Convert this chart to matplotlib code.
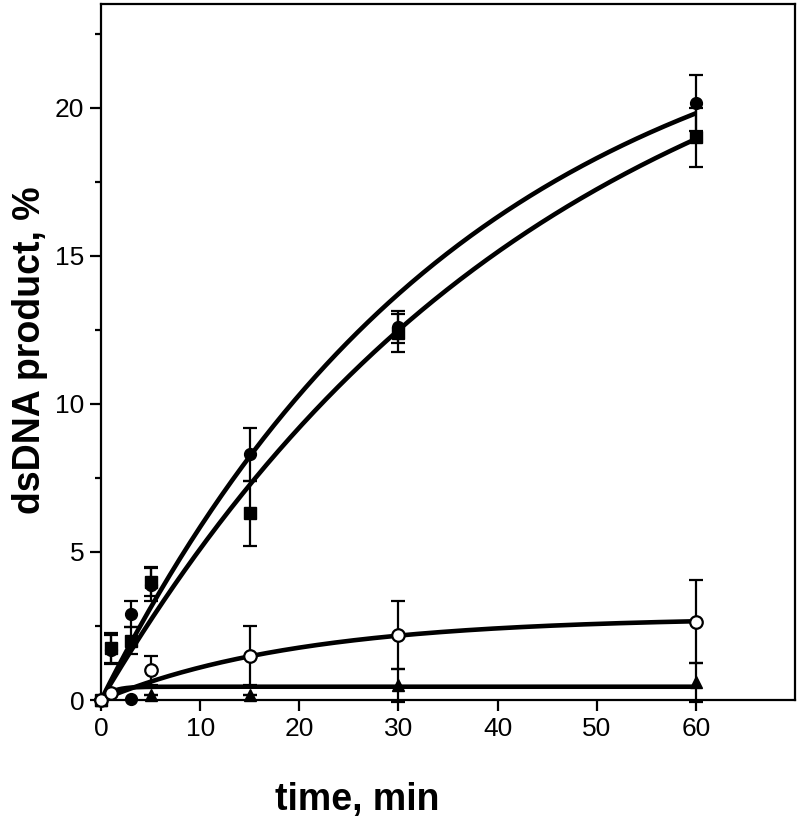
import numpy as np
import matplotlib
matplotlib.use("Agg")
import matplotlib.pyplot as plt

# ---- data ----
t_sq = [0, 1, 3, 5, 15, 30, 60]
y_sq = [0.0, 1.75, 2.0, 4.0, 6.3, 12.4, 19.0]
e_sq = [0.0, 0.5, 0.45, 0.5, 1.1, 0.65, 1.0]

t_ci = [0, 1, 3, 5, 15, 30, 60]
y_ci = [0.0, 1.7, 2.9, 3.9, 8.3, 12.6, 20.15]
e_ci = [0.0, 0.5, 0.45, 0.55, 0.9, 0.55, 0.95]

t_oc = [0, 1, 5, 15, 30, 60]
y_oc = [0.0, 0.25, 1.0, 1.5, 2.2, 2.65]
e_oc = [0.0, 0.1, 0.5, 1.0, 1.15, 1.4]

t_tr = [0, 5, 15, 30, 60]
y_tr = [0.0, 0.17, 0.17, 0.5, 0.6]
e_tr = [0.0, 0.0, 0.0, 0.55, 0.65]

t_low = [3]
y_low = [0.05]

# fitted curves y = A (1 - exp(-k t))
fit_ci = (24.7, 0.027)
fit_sq = (25.85, 0.022)
fit_oc = (2.8, 0.05)
fit_tr = (0.45, 0.9)

xticks = [0, 10, 20, 30, 40, 50, 60]
yticks = [0, 5, 10, 15, 20]

plt.rcParams['font.family'] = ['Liberation Sans', 'DejaVu Sans']

fig = plt.figure(figsize=(8.0, 8.26), dpi=100)
ax = fig.add_axes([0.1263, 0.1525, 0.8675, 0.8426])

tt = np.linspace(0, 60, 400)
for A, k in (fit_ci, fit_sq, fit_oc, fit_tr):
    ax.plot(tt, A * (1 - np.exp(-k * tt)), color='black', lw=3.3, zorder=3,
            solid_capstyle='butt')

ekw = dict(fmt='none', ecolor='black', elinewidth=1.6, capsize=5, capthick=1.6,
           zorder=2, clip_on=False)
ax.errorbar(t_sq, y_sq, yerr=e_sq, **ekw)
ax.errorbar(t_ci, y_ci, yerr=e_ci, **ekw)
ax.errorbar(t_oc, y_oc, yerr=e_oc, **ekw)
ax.errorbar(t_tr, y_tr, yerr=e_tr, **ekw)

ax.plot(t_sq, y_sq, 's', color='black', ms=8, zorder=4, clip_on=False)
ax.plot(t_ci, y_ci, 'o', color='black', ms=8.5, zorder=4, clip_on=False)
ax.plot(t_low, y_low, 'o', color='black', ms=8.5, zorder=4, clip_on=False)
ax.plot(t_oc, y_oc, 'o', mfc='white', mec='black', mew=1.6, ms=9, zorder=5, clip_on=False)
ax.plot(t_tr, y_tr, '^', color='black', ms=9, zorder=4, clip_on=False)

ax.set_xlim(0, 70)
ax.set_ylim(0, 23.5)
ax.set_xticks(xticks)
ax.set_yticks(yticks)
ax.set_yticks(np.arange(2.5, 23.5, 5), minor=True)
ax.tick_params(axis='both', which='major', direction='out', length=8, width=1.6,
               labelsize=19, pad=4)
ax.tick_params(axis='y', which='minor', direction='out', length=4, width=1.6)
for s in ax.spines.values():
    s.set_linewidth(1.6)

fig.text(357 / 800, 1 - 800 / 826, 'time, min', fontsize=27, fontweight='bold',
         ha='center', va='center')
fig.text(30 / 800, 1 - 350 / 826, 'dsDNA product, %', fontsize=27, fontweight='bold',
         ha='center', va='center', rotation=90)

fig.savefig('out.png', dpi=100)
